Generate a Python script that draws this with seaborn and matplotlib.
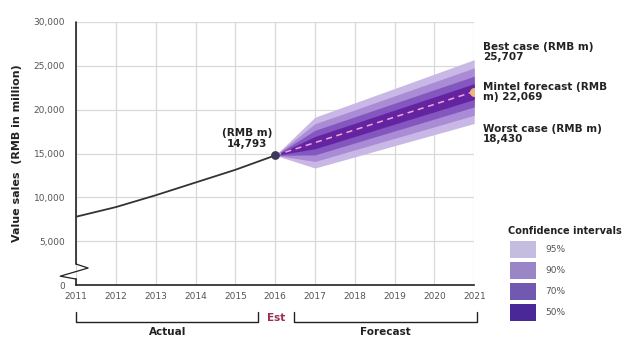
import numpy as np
import pandas as pd
import matplotlib
matplotlib.use("Agg")
import matplotlib.pyplot as plt
import matplotlib.transforms as mtransforms
from matplotlib.lines import Line2D
from matplotlib.patches import Rectangle
import seaborn as sns

# Historical value sales (RMB million)
actual_years = [2011, 2012, 2013, 2014, 2015, 2016]
actual_sales = [7800, 8900, 10250, 11700, 13150, 14793]

# Forecast years and central forecast
forecast_years = [2016, 2017, 2018, 2019, 2020, 2021]
forecast_sales = [14793, 16250, 17700, 19160, 20610, 22069]

# Confidence interval bounds per forecast year
ci95_low = [14793, 13350, 14620, 15900, 17160, 18430]
ci95_high = [14793, 19150, 20780, 22420, 24060, 25707]
ci90_low = [14793, 14100, 15420, 16740, 18050, 19370]
ci90_high = [14793, 18400, 19980, 21580, 23170, 24770]
ci70_low = [14793, 14850, 16210, 17580, 18940, 20320]
ci70_high = [14793, 17650, 19190, 20740, 22280, 23820]
ci50_low = [14793, 15550, 16950, 18360, 19760, 21170]
ci50_high = [14793, 16950, 18450, 19960, 21460, 22970]

ci_labels = ["95%", "90%", "70%", "50%"]
y_ticks = [0, 5000, 10000, 15000, 20000, 25000, 30000]

sns.set_theme(style="white")
plt.rcParams["font.family"] = ["DejaVu Sans"]

fig = plt.figure(figsize=(6.4, 3.49), dpi=100)
ax = fig.add_axes([0.119, 0.183, 0.622, 0.754])

band_colors = ["#c9b8e6", "#a98bd6", "#8456c0", "#6424a2"]
legend_colors = ["#c4bde0", "#9a86c6", "#7158b0", "#4b2898"]
bands = [(ci95_low, ci95_high), (ci90_low, ci90_high),
         (ci70_low, ci70_high), (ci50_low, ci50_high)]
for (lo, hi), col in zip(bands, band_colors):
    ax.fill_between(forecast_years, lo, hi, color=col, lw=0, zorder=2)

hist = pd.DataFrame({"year": actual_years, "sales": actual_sales})
fc = pd.DataFrame({"year": forecast_years, "sales": forecast_sales})
sns.lineplot(data=hist, x="year", y="sales", ax=ax, color="#333333", lw=1.3, zorder=3)
sns.lineplot(data=fc, x="year", y="sales", ax=ax, color="#f2a6d8", lw=1.1,
             linestyle=(0, (4, 3)), zorder=4)
ax.scatter([actual_years[-1]], [actual_sales[-1]], s=28, color="#3b3858", zorder=5)
ax.scatter([forecast_years[-1]], [forecast_sales[-1]], s=30, color="#f3b37c", zorder=5)

ax.set_xlim(2011, 2021)
ax.set_ylim(0, 30000)
ax.set_xticks(list(range(2011, 2022)))
ax.set_yticks(y_ticks)
ax.set_yticklabels([f"{v:,}" for v in y_ticks])
ax.tick_params(axis="both", labelsize=6.5, labelcolor="#555555")
ax.tick_params(axis="x", direction="in", length=3, color="#222222", pad=5)
ax.tick_params(axis="y", length=0, pad=8)
ax.grid(True, color="#d9d9d9", lw=0.9)
ax.set_axisbelow(True)
ax.set_xlabel("")
ax.set_ylabel("Value sales  (RMB in million)", fontsize=8, fontweight="bold",
              color="#222222", labelpad=8)
for s in ["top", "right", "left"]:
    ax.spines[s].set_visible(False)
ax.spines["bottom"].set_color("#222222")
ax.spines["bottom"].set_linewidth(1.2)

# Left axis line with a break between 0 and 5,000
ax.add_line(Line2D([0, 0], [1, 0.08], transform=ax.transAxes, color="#222222",
                   lw=1.2, clip_on=False))
ax.add_line(Line2D([0, 0.03, -0.04, 0], [0.08, 0.065, 0.034, 0.023],
                   transform=ax.transAxes, color="#222222", lw=0.9, clip_on=False))
ax.add_line(Line2D([0, 0], [0.023, 0], transform=ax.transAxes, color="#222222",
                   lw=1.2, clip_on=False))

# Value annotations
ax.text(2016.0 - 0.7, 15550, "(RMB m)\n14,793", ha="center", va="bottom",
        fontsize=7.5, fontweight="bold", color="#222222", linespacing=1.1)
side = dict(fontsize=7.5, fontweight="bold", color="#222222", va="center",
            ha="left", linespacing=1.1, transform=fig.transFigure)
fig.text(483 / 640, 1 - 52 / 349, "Best case (RMB m)\n25,707", **side)
fig.text(483 / 640, 1 - 92 / 349, "Mintel forecast (RMB\nm) 22,069", **side)
fig.text(483 / 640, 1 - 134 / 349, "Worst case (RMB m)\n18,430", **side)

# Period brackets under the axis
tr = mtransforms.blended_transform_factory(ax.transData, ax.transAxes)
yb, yt = -0.141, -0.103
for x0, x1 in [(2011, 2015.58), (2016.47, 2021.08)]:
    ax.add_line(Line2D([x0, x0, x1, x1], [yt, yb, yb, yt], transform=tr,
                       color="#222222", lw=1.0, clip_on=False))
ax.text((2011 + 2015.58) / 2, -0.18, "Actual", transform=tr, ha="center",
        va="center", fontsize=7.5, fontweight="bold", color="#222222")
ax.text((2016.47 + 2021.08) / 2, -0.18, "Forecast", transform=tr, ha="center",
        va="center", fontsize=7.5, fontweight="bold", color="#222222")
ax.text(2016.03, -0.125, "Est", transform=tr, ha="center", va="center",
        fontsize=7.5, fontweight="bold", color="#9b2d52")

# Confidence interval key
fig.text(508 / 640, 1 - 231 / 349, "Confidence intervals", fontsize=7,
         fontweight="bold", color="#222222", va="center", ha="left")
for i, (lab, col) in enumerate(zip(ci_labels, legend_colors)):
    top = 241 + i * 21
    fig.patches.append(Rectangle((510 / 640, 1 - (top + 17) / 349), 26 / 640,
                                 17 / 349, transform=fig.transFigure,
                                 color=col, lw=0))
    fig.text(545 / 640, 1 - (top + 8.5) / 349, lab, fontsize=6.5,
             color="#555555", va="center", ha="left")

fig.savefig("out.png", dpi=100, facecolor="white")
